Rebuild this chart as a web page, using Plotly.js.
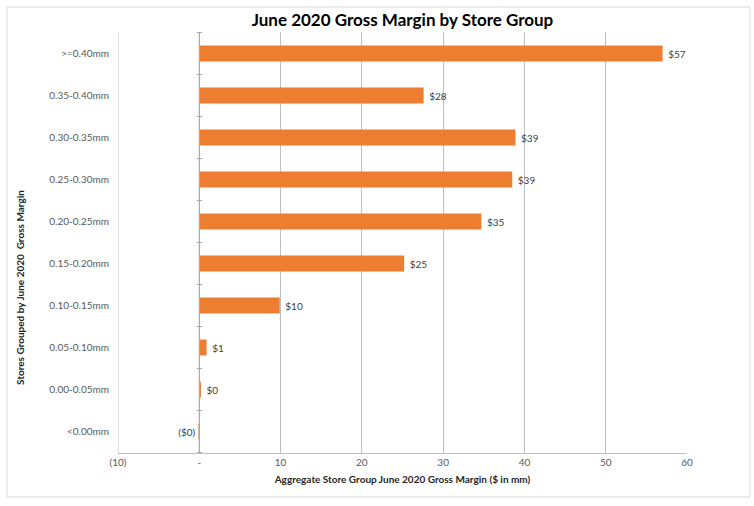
<!DOCTYPE html>
<html><head><meta charset="utf-8">
<script src="https://cdn.plot.ly/plotly-3.0.1.min.js"></script>
<style>body{margin:0;background:#fff}#c{width:754px;height:506px}</style>
</head><body><div id="c"></div>
<script>
const categories = [">=0.40mm","0.35-0.40mm","0.30-0.35mm","0.25-0.30mm","0.20-0.25mm","0.15-0.20mm","0.10-0.15mm","0.05-0.10mm","0.00-0.05mm","<0.00mm"];
const values = [57, 27.6, 38.9, 38.5, 34.7, 25.2, 9.9, 0.9, 0.2, -0.1];
const labels = ["$57","$28","$39","$39","$35","$25","$10","$1","$0","($0)"];
const xTickVals = [-10,0,10,20,30,40,50,60];
const xTickText = ["(10)","-","10","20","30","40","50","60"];

const W=754,H=506,L=118,R=67,T=32,B=53;
const pw=W-L-R, ph=H-T-B;
const px = v => (v-L)/pw, py = v => 1-(v-T)/ph;

const shapes = [
  {type:'rect',xref:'paper',yref:'paper',x0:px(7),x1:px(750),y0:py(7),y1:py(497),line:{color:'#d9d9d9',width:1},layer:'below'},
  {type:'line',xref:'x',yref:'paper',x0:xTickVals[0],x1:xTickVals[0],y0:0,y1:1,line:{color:'#bfbfbf',width:1},layer:'below'},
  {type:'line',xref:'x',yref:'paper',x0:0,x1:0,y0:0,y1:1,line:{color:'#a6a6a6',width:1}}
];
for(let i=0;i<=categories.length;i++){
  shapes.push({type:'line',xref:'paper',yref:'y',x0:px(197),x1:px(202),y0:i-0.5,y1:i-0.5,line:{color:'#a6a6a6',width:1}});
}

const trace = {
  type:'bar', orientation:'h', y:categories, x:values,
  text:labels, textposition:'outside', cliponaxis:false,
  texttemplate:' %{text}',
  textfont:{family:'Lato, sans-serif',size:10,color:'#404040'},
  marker:{color:'#ED7D31'}, width:0.38, hoverinfo:'none'
};
const layout = {
  width:W,height:H,margin:{l:L,r:R,t:T,b:B},
  paper_bgcolor:'#fff',plot_bgcolor:'#fff',showlegend:false,
  font:{family:'Lato, sans-serif',color:'#595959',size:10},
  title:{text:'<b>June 2020 Gross Margin by Store Group</b>',x:0.5,xref:'paper',y:1-20/H,yanchor:'middle',font:{size:17,color:'#000',family:'Lato, sans-serif'}},
  xaxis:{range:[-10,60],tickvals:xTickVals,ticktext:xTickText,showgrid:true,gridcolor:'#bfbfbf',gridwidth:1,
    zeroline:false,showline:true,linecolor:'#bfbfbf',ticks:'',tickfont:{size:10,color:'#595959'},
    title:{text:'<b>Aggregate Store Group June 2020 Gross Margin ($ in mm)</b>',font:{size:10,color:'#262626'},standoff:8}},
  yaxis:{type:'category',autorange:'reversed',showgrid:false,zeroline:false,showline:false,ticks:'',
    tickfont:{size:10,color:'#595959'},ticklabelstandoff:8},
  annotations:[{text:'<b>Stores Grouped by June 2020  Gross Margin</b>',textangle:-90,xref:'paper',yref:'paper',
    x:px(20),y:py(288),showarrow:false,font:{size:10,color:'#262626'},xanchor:'center',yanchor:'middle'}],
  shapes:shapes
};
Plotly.newPlot('c',[trace],layout,{displayModeBar:false,staticPlot:true});
</script></body></html>
